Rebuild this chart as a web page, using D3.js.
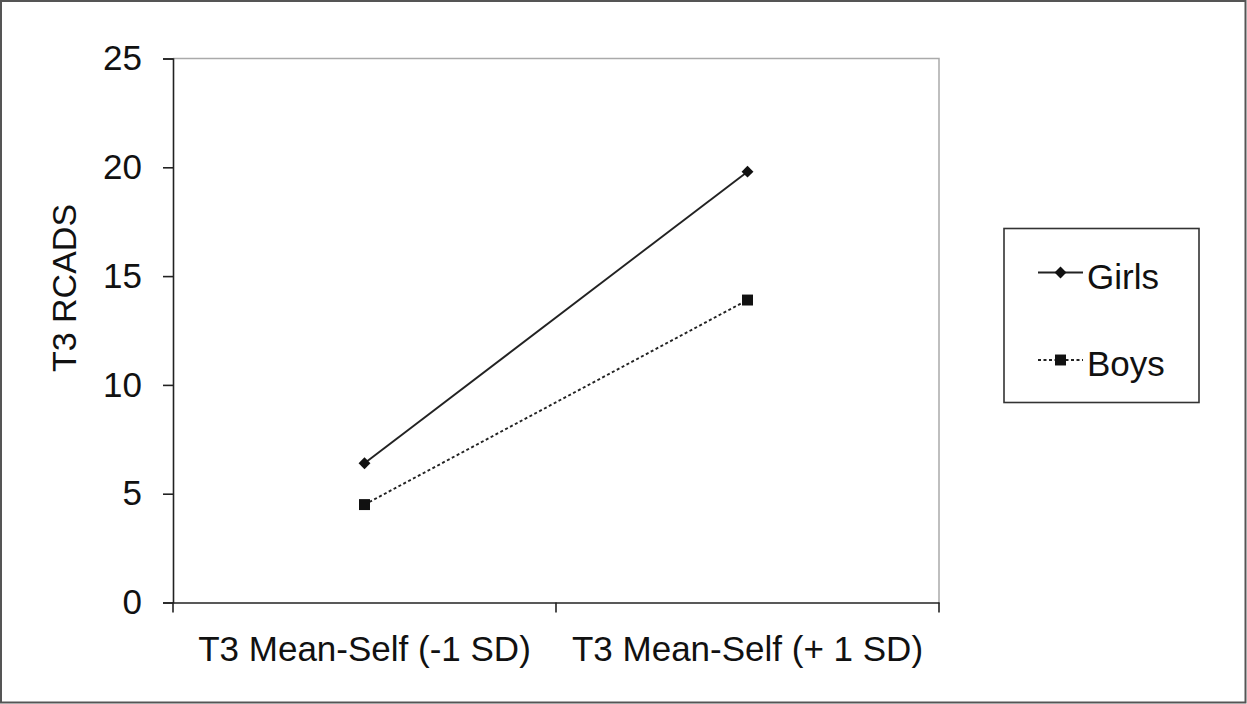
<!DOCTYPE html>
<html>
<head>
<meta charset="utf-8">
<script src="https://cdn.jsdelivr.net/npm/d3@7/dist/d3.min.js"></script>
<style>
  html, body { margin: 0; padding: 0; background: #fff; }
  svg { display: block; font-family: "Liberation Sans", Arial, sans-serif; }
</style>
</head>
<body>
<svg id="chart" width="1247" height="704"></svg>
<script>
// Predicted T3 RCADS scores at low / high T3 Mean-Self
const categories = ["T3 Mean-Self (-1 SD)", "T3 Mean-Self (+ 1 SD)"];
const girls = [6.4, 19.8];
const boys = [4.5, 13.9];
const seriesNames = ["Girls", "Boys"];
const yTicks = [0, 5, 10, 15, 20, 25];

const svg = d3.select("#chart");
const W = 1247, H = 704;
const FONT = 35;

// outer frame
svg.append("rect").attr("x", 1).attr("y", 1).attr("width", W - 2.5).attr("height", H - 2.5)
  .attr("fill", "#fff").attr("stroke", "#555").attr("stroke-width", 2);

const plot = { left: 173, right: 939, top: 58.5, bottom: 602.5 };

const x = d3.scaleBand().domain(categories).range([plot.left, plot.right]).padding(0);
const y = d3.scaleLinear().domain([0, 25]).range([plot.bottom, plot.top]);
const cx = d => x(d) + x.bandwidth() / 2;

// plot-area border (top and right, light gray)
svg.append("path")
  .attr("d", `M${plot.left},${plot.top}H${plot.right}V${plot.bottom}`)
  .attr("fill", "none").attr("stroke", "#aaa").attr("stroke-width", 1.5);

// y axis
const yAxis = svg.append("g").attr("transform", `translate(${plot.left},0)`)
  .call(d3.axisLeft(y).tickValues(yTicks).tickSize(10).tickPadding(21).tickFormat(d3.format("d")));
yAxis.select(".domain").attr("stroke", "#222").attr("stroke-width", 1.6);
yAxis.selectAll(".tick line").attr("stroke", "#222").attr("stroke-width", 1.6);
yAxis.selectAll(".tick text").attr("font-size", FONT).attr("fill", "#111")
  .attr("font-family", "Liberation Sans, Arial, sans-serif");

// x axis: labels centred in each band, ticks at band boundaries
const xAxis = svg.append("g").attr("transform", `translate(0,${plot.bottom})`)
  .call(d3.axisBottom(x).tickSize(0).tickPadding(58.5));
xAxis.select(".domain").attr("stroke", "#222").attr("stroke-width", 1.6);
xAxis.selectAll(".tick text").attr("font-size", FONT).attr("fill", "#111")
  .attr("font-family", "Liberation Sans, Arial, sans-serif").attr("dy", 0);
const bounds = categories.map(c => x(c)).concat([x(categories[categories.length - 1]) + x.bandwidth()]);
svg.append("g").selectAll("line").data(bounds).join("line")
  .attr("x1", d => d).attr("x2", d => d)
  .attr("y1", plot.bottom).attr("y2", plot.bottom + 10)
  .attr("stroke", "#222").attr("stroke-width", 1.6);

// y axis title
svg.append("text")
  .attr("transform", "translate(76,288) rotate(-90)")
  .attr("text-anchor", "middle").attr("font-size", 34).attr("fill", "#111")
  .text("T3 RCADS");

// series lines
const line = d3.line().x((d, i) => cx(categories[i])).y(d => y(d));
svg.append("path").datum(girls).attr("d", line)
  .attr("fill", "none").attr("stroke", "#222").attr("stroke-width", 1.9);
svg.append("path").datum(boys).attr("d", line)
  .attr("fill", "none").attr("stroke", "#222").attr("stroke-width", 1.9)
  .attr("stroke-dasharray", "3,2.5");

const diamond = d3.symbol().type(d3.symbolDiamond2).size(90);
const square = d3.symbol().type(d3.symbolSquare).size(120);

svg.append("g").selectAll("path").data(girls).join("path")
  .attr("d", diamond)
  .attr("transform", (d, i) => `translate(${cx(categories[i])},${y(d)})`)
  .attr("fill", "#111");
svg.append("g").selectAll("path").data(boys).join("path")
  .attr("d", square)
  .attr("transform", (d, i) => `translate(${cx(categories[i])},${y(d)})`)
  .attr("fill", "#111");

// legend
const legend = svg.append("g");
legend.append("rect").attr("x", 1004).attr("y", 228.5).attr("width", 195).attr("height", 174)
  .attr("fill", "#fff").attr("stroke", "#333").attr("stroke-width", 1.6);
const rows = [
  { name: seriesNames[0], y: 272.5, dash: null, sym: diamond },
  { name: seriesNames[1], y: 360, dash: "3,2.5", sym: square }
];
rows.forEach(r => {
  legend.append("line").attr("x1", 1038).attr("x2", 1083).attr("y1", r.y).attr("y2", r.y)
    .attr("stroke", "#222").attr("stroke-width", 1.9).attr("stroke-dasharray", r.dash);
  legend.append("path").attr("d", r.sym).attr("transform", `translate(1060.5,${r.y})`).attr("fill", "#111");
  legend.append("text").attr("x", 1087).attr("y", r.y + 16).attr("font-size", FONT).attr("fill", "#111")
    .text(r.name);
});
</script>
</body>
</html>
